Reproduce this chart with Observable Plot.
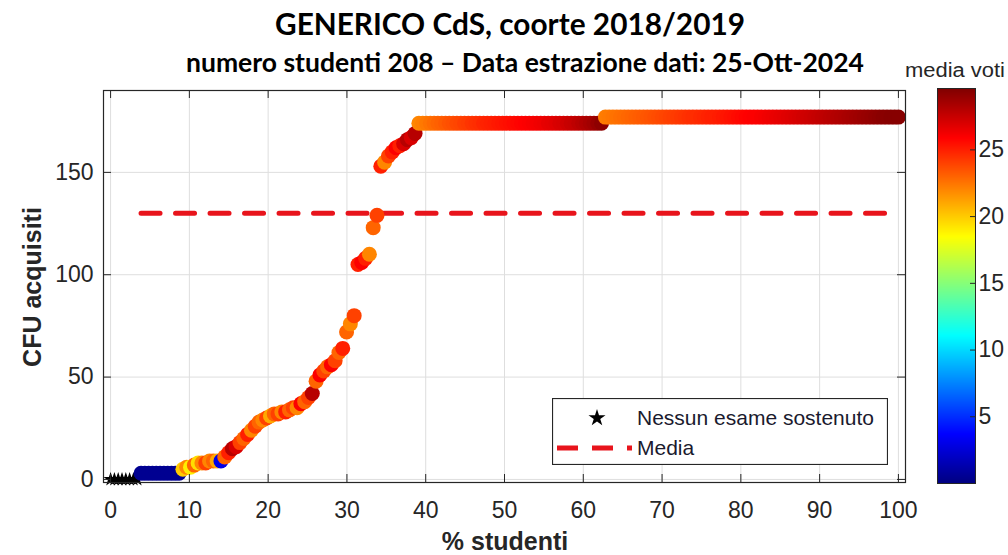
<!DOCTYPE html>
<html><head><meta charset="utf-8">
<script src="https://cdn.jsdelivr.net/npm/d3@7"></script>
<script src="https://cdn.jsdelivr.net/npm/@observablehq/plot@0.6"></script>
<style>
html,body{margin:0;padding:0;background:#fff;}
#root{position:relative;width:1008px;height:555px;overflow:hidden;font-family:"Liberation Sans",Arial,sans-serif;color:#262626;}
.abs{position:absolute;}
</style></head><body><div id="root"></div>
<script>
// ---- Testi ----
const titolo = "GENERICO CdS, coorte 2018/2019";
const sottotitolo = "numero studenti 208 \u2013 Data estrazione dati: 25-Ott-2024";
const etichettaX = "% studenti";
const etichettaY = "CFU acquisiti";
const etichettaColore = "media voti";
const legendaStelle = "Nessun esame sostenuto";
const legendaMedia = "Media";

// ---- Tick ----
const xTicks = [0,10,20,30,40,50,60,70,80,90,100];
const yTicks = [0,50,100,150];
const cbTicks = [5,10,15,20,25];

// ---- Dati (studenti ordinati per CFU) ----
const numeroStudenti = 208;
const nessunEsame = 8;               // studenti senza esami (CFU 0)
const cfuBassi = [3,3,3,3,3,3,3,3,3,3,3];
const mediaBassi = [0.5,0.5,0.5,0.5,0.5,0.5,0.5,0.5,0.5,0.5,0.5];
const cfuCrescita = [5,6,6,7,8,8,8,9,9,9, 9,11,13,15,16,18,20,22,24,26,
  28,29,30,31,32,32,33,33,34,35, 35,37,38,40,42,48,51,53,55,56,
  58,62,64,72,76,80,105,106,108,110, 123,129,153,155,158,160,162,163,164,166, 167,169];
const mediaCrescita = [20,22,19,23,19.5,22,24,22,23,21, 3,23,25,28,27,24,23,25,22,24,
  23,22,24,21,23,24,22,25,23,24, 22,26,23,24,28,23,26,24,23,26,
  24,23,25,23,22,24,25,26,25,22, 23,24,25,22,24,25,26,25,27,28, 27,28];
const cfuPlateau1 = 174;
const mediaPlateau1 = [22.0,22.2,22.4,22.6,22.8,23.0,23.1,23.3,23.5,23.6,
  23.8,23.9,24.1,24.2,24.4,24.5,24.6,24.8,24.9,25.0,
  25.1,25.2,25.3,25.4,25.5,25.6,25.7,25.8,25.9,26.0,
  26.1,26.2,26.3,26.4,26.6,26.7,26.8,27.0,27.1,27.3,
  27.5,27.6,27.8,28.0,28.2,28.4,28.6,28.9,29.2];
const cfuPlateau2 = 177;
const mediaPlateau2 = [22.3,22.4,22.5,22.6,22.7,22.8,22.9,23.0,23.1,23.2,
  23.3,23.4,23.5,23.6,23.7,23.8,23.9,24.0,24.1,24.2,
  24.3,24.4,24.5,24.6,24.6,24.7,24.8,24.9,25.0,25.0,
  25.1,25.2,25.3,25.4,25.5,25.6,25.7,25.8,25.9,26.0,
  26.0,26.1,26.2,26.3,26.4,26.5,26.6,26.7,26.8,26.9,
  27.0,27.1,27.2,27.3,27.4,27.5,27.6,27.7,27.8,27.9,
  28.0,28.1,28.2,28.3,28.4,28.5,28.6,28.7,28.8,28.9,
  29.0,29.1,29.2,29.3,29.3,29.4,29.4,29.4];
const mediaCFU = 130;

// ---- Colormap (jet) ----
const coloreDominio = [0,3.7,11.1,18.5,25.9,29.6];
const coloreRange = ["#000080","#0000ff","#00ffff","#ffff00","#ff0000","#800000"];

// ---- Tabelle ----
const pct = i => i * 100 / (numeroStudenti - 1);
const stelle = d3.range(nessunEsame).map(i => ({x: pct(i), y: 0}));
const cfuTutti = [...cfuBassi, ...cfuCrescita, ...mediaPlateau1.map(() => cfuPlateau1), ...mediaPlateau2.map(() => cfuPlateau2)];
const mediaTutti = [...mediaBassi, ...mediaCrescita, ...mediaPlateau1, ...mediaPlateau2];
const studenti = cfuTutti.map((c, k) => ({x: pct(nessunEsame + k), y: c, media: mediaTutti[k]}));
const lineaMedia = [{x: pct(nessunEsame), y: mediaCFU}, {x: 100, y: mediaCFU}];

const colorOpts = {type: "linear", domain: coloreDominio, range: coloreRange, interpolate: "rgb", clamp: true};
const ink = "#262626";
const font = "Liberation Sans, Arial, sans-serif";

const root = document.getElementById("root");

// ---- Titoli ----
const svgNS = "http://www.w3.org/2000/svg";
const tsvg = document.createElementNS(svgNS, "svg");
tsvg.setAttribute("width", 1008); tsvg.setAttribute("height", 85);
tsvg.setAttribute("class", "abs"); tsvg.style.left = "0px"; tsvg.style.top = "0px";
function addText(parent, txt, attrs) {
  const t = document.createElementNS(svgNS, "text");
  for (const k in attrs) t.setAttribute(k, attrs[k]);
  t.textContent = txt; parent.appendChild(t); return t;
}
addText(tsvg, titolo, {x: 510, y: 35, "text-anchor": "middle", "font-family": "Lato, 'Open Sans', sans-serif", "font-weight": "bold", "font-size": 31, fill: "#000", textLength: 470, lengthAdjust: "spacingAndGlyphs"});
addText(tsvg, sottotitolo, {x: 525, y: 72, "text-anchor": "middle", "font-family": "Lato, 'Open Sans', sans-serif", "font-weight": "bold", "font-size": 26, fill: "#000", textLength: 678, lengthAdjust: "spacingAndGlyphs"});
addText(tsvg, etichettaColore, {x: 905, y: 77, "font-family": font, "font-size": 20, fill: ink, textLength: 100, lengthAdjust: "spacingAndGlyphs"});
root.appendChild(tsvg);

// ---- Grafico principale ----
const W = 910, H = 475, mT = 10, mB = 73, mL = 103, mR = W - 905;
const frameH = H - mT - mB, frameW = W - mL - mR;
const main = Plot.plot({
  width: W, height: H, marginTop: mT, marginBottom: mB, marginLeft: mL, marginRight: mR,
  x: {domain: [-0.9, 100.9]},
  y: {domain: [-1.5, 190]},
  color: colorOpts,
  style: {fontFamily: font, fontSize: "23px", color: ink, background: "transparent", overflow: "visible"},
  marks: [
    Plot.gridX(xTicks, {stroke: "#dedede", strokeOpacity: 1}),
    Plot.gridY(yTicks, {stroke: "#dedede", strokeOpacity: 1}),
    Plot.line(lineaMedia, {x: "x", y: "y", stroke: "#e8141c", strokeWidth: 5, strokeDasharray: "19,15.5"}),
    Plot.dot(stelle, {x: "x", y: "y", symbol: "star", fill: "#000", r: 4.5}),
    Plot.dot(studenti, {x: "x", y: "y", fill: "media", r: 7.5}),
    Plot.frame({stroke: ink, strokeWidth: 1.2}),
    Plot.tickX(xTicks, {x: d => d, insetTop: frameH - 8, stroke: ink}),
    Plot.tickX(xTicks, {x: d => d, insetBottom: frameH - 8, stroke: ink}),
    Plot.tickY(yTicks, {y: d => d, insetRight: frameW - 8, stroke: ink}),
    Plot.tickY(yTicks, {y: d => d, insetLeft: frameW - 8, stroke: ink}),
    Plot.axisX({ticks: xTicks, tickSize: 0, tickPadding: 19, label: null, fontSize: 23}),
    Plot.axisY({ticks: yTicks, tickSize: 0, tickPadding: 10, label: null, fontSize: 23})
  ]
});
main.classList.add("abs"); main.style.left = "0px"; main.style.top = "80px";
root.appendChild(main);

// ---- Barra colori ----
const cb = Plot.plot({
  width: 108, height: 420, marginTop: 8, marginBottom: 17, marginLeft: 37, marginRight: 33,
  x: {domain: [0, 1], axis: null},
  y: {domain: [coloreDominio[0], coloreDominio[coloreDominio.length - 1]]},
  color: colorOpts,
  style: {fontFamily: font, fontSize: "23px", color: ink, background: "transparent", overflow: "visible"},
  marks: [
    Plot.raster({x1: 0, x2: 1, y1: coloreDominio[0], y2: coloreDominio[coloreDominio.length - 1], fill: (x, y) => y}),
    Plot.frame({stroke: ink}),
    Plot.tickY(cbTicks, {y: d => d, insetLeft: 33, stroke: ink}),
    Plot.axisY({anchor: "right", ticks: cbTicks, tickSize: 0, tickPadding: 3, label: null, fontSize: 23})
  ]
});
cb.classList.add("abs"); cb.style.left = "900px"; cb.style.top = "80px";
root.appendChild(cb);

// ---- Etichette assi ----
const lx = document.createElement("div");
lx.className = "abs"; lx.textContent = etichettaX;
Object.assign(lx.style, {left: "305px", width: "400px", top: "527px", textAlign: "center", fontWeight: "bold", fontSize: "25px", lineHeight: "28px"});
root.appendChild(lx);
const ly = document.createElement("div");
ly.className = "abs"; ly.textContent = etichettaY;
Object.assign(ly.style, {left: "-168px", width: "400px", top: "273px", textAlign: "center", fontWeight: "bold", fontSize: "25px", lineHeight: "28px", transform: "rotate(-90deg)"});
root.appendChild(ly);

// ---- Legenda ----
const leg = document.createElementNS(svgNS, "svg");
leg.setAttribute("width", 336); leg.setAttribute("height", 67);
leg.setAttribute("class", "abs"); leg.style.left = "552px"; leg.style.top = "398px";
const rect = document.createElementNS(svgNS, "rect");
Object.entries({x: 0.5, y: 0.5, width: 335, height: 66, fill: "#fff", stroke: ink, "stroke-width": 1.2}).forEach(([k, v]) => rect.setAttribute(k, v));
leg.appendChild(rect);
const star = document.createElementNS(svgNS, "path");
star.setAttribute("d", d3.symbol(d3.symbolStar, 90)());
star.setAttribute("transform", "translate(45,20)"); star.setAttribute("fill", "#000");
leg.appendChild(star);
const dash = document.createElementNS(svgNS, "line");
Object.entries({x1: 5, x2: 80, y1: 50, y2: 50, stroke: "#e8141c", "stroke-width": 5, "stroke-dasharray": "21,14"}).forEach(([k, v]) => dash.setAttribute(k, v));
leg.appendChild(dash);
addText(leg, legendaStelle, {x: 85, y: 27, "font-family": font, "font-size": 21, fill: "#1a1a2e"});
addText(leg, legendaMedia, {x: 85, y: 57, "font-family": font, "font-size": 21, fill: "#1a1a2e"});
root.appendChild(leg);
</script>
</body></html>
